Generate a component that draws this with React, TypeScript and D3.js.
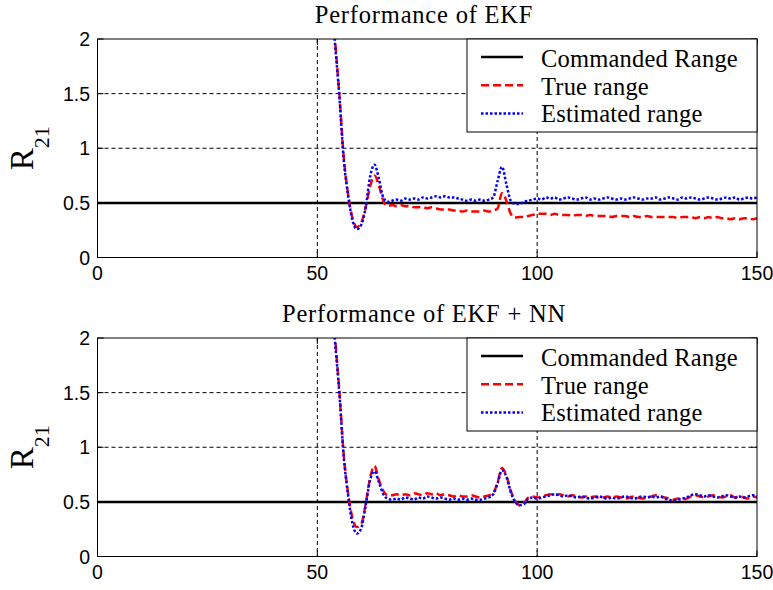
import React from 'react';
import * as d3 from 'd3';

// Sample instants (s) at which the ranges were logged
const time: number[] = d3.range(53, 151);

// EKF only: true and estimated relative range R21
const ekfTrue: number[] = [
  2.5, 2.0, 1.5, 0.92, 0.58, 0.36, 0.28, 0.32, 0.46, 0.65, 0.75, 0.66, 0.52, 0.47, 0.48, 0.47,
  0.48, 0.47, 0.47, 0.46, 0.46, 0.46, 0.45, 0.46, 0.45, 0.44, 0.44, 0.44, 0.43, 0.43, 0.42, 0.43,
  0.42, 0.42, 0.42, 0.43, 0.42, 0.43, 0.45, 0.59, 0.52, 0.4, 0.365, 0.37, 0.37, 0.38, 0.39, 0.4,
  0.4, 0.4, 0.39, 0.4, 0.39, 0.39, 0.39, 0.38, 0.39, 0.39, 0.38, 0.39, 0.38, 0.38, 0.38, 0.38,
  0.37, 0.38, 0.38, 0.38, 0.37, 0.38, 0.37, 0.37, 0.38, 0.37, 0.37, 0.37, 0.37, 0.37, 0.37, 0.36,
  0.37, 0.37, 0.37, 0.36, 0.37, 0.36, 0.37, 0.36, 0.37, 0.36, 0.36, 0.35, 0.36, 0.35, 0.36, 0.36,
  0.35, 0.36,
];
const ekfEst: number[] = [
  2.5, 1.97, 1.48, 0.9, 0.57, 0.34, 0.26, 0.3, 0.46, 0.74, 0.85, 0.72, 0.55, 0.51, 0.52, 0.53,
  0.52, 0.54, 0.53, 0.54, 0.53, 0.55, 0.54, 0.55, 0.56, 0.55, 0.56, 0.55, 0.55, 0.54, 0.53, 0.52,
  0.53, 0.52, 0.53, 0.52, 0.53, 0.55, 0.7, 0.83, 0.67, 0.52, 0.49, 0.49, 0.51, 0.52, 0.53, 0.54,
  0.53, 0.55, 0.54, 0.55, 0.53, 0.54, 0.55, 0.54, 0.53, 0.54, 0.55, 0.53, 0.54, 0.53, 0.54, 0.55,
  0.54, 0.53, 0.54, 0.53, 0.54, 0.55, 0.54, 0.53, 0.54, 0.54, 0.55, 0.53, 0.54, 0.55, 0.54, 0.53,
  0.55, 0.54, 0.55, 0.54, 0.53, 0.54, 0.55, 0.54, 0.53, 0.54, 0.55, 0.54, 0.55, 0.53, 0.54, 0.55,
  0.54, 0.55,
];

// EKF + NN: true and estimated relative range R21
const nnTrue: number[] = [
  2.5, 2.02, 1.52, 0.93, 0.58, 0.35, 0.27, 0.3, 0.48, 0.72, 0.83, 0.7, 0.6, 0.56, 0.56, 0.57,
  0.56, 0.57, 0.56, 0.58, 0.57, 0.56, 0.58, 0.57, 0.58, 0.56, 0.57, 0.56, 0.55, 0.56, 0.55, 0.55,
  0.56, 0.55, 0.54, 0.55, 0.56, 0.58, 0.68, 0.81, 0.74, 0.6, 0.51, 0.47, 0.49, 0.54, 0.55, 0.54,
  0.55, 0.56, 0.57, 0.56, 0.57, 0.56, 0.55, 0.56, 0.55, 0.54, 0.55, 0.54, 0.55, 0.54, 0.54, 0.55,
  0.54, 0.55, 0.54, 0.53, 0.54, 0.55, 0.54, 0.53, 0.54, 0.55, 0.56, 0.55, 0.54, 0.53, 0.52, 0.53,
  0.52, 0.53, 0.55, 0.56, 0.55, 0.54, 0.55, 0.56, 0.55, 0.54, 0.55, 0.56, 0.54, 0.55, 0.54, 0.53,
  0.55, 0.54,
];
const nnEst: number[] = [
  2.5, 1.98, 1.5, 0.92, 0.56, 0.3, 0.21, 0.26, 0.47, 0.7, 0.78, 0.68, 0.57, 0.53, 0.52, 0.53,
  0.52, 0.54, 0.53, 0.52, 0.54, 0.53, 0.55, 0.54, 0.53, 0.54, 0.53, 0.52, 0.53, 0.52, 0.53, 0.52,
  0.53, 0.52, 0.52, 0.53, 0.54, 0.57, 0.67, 0.79, 0.73, 0.59, 0.5, 0.47, 0.48, 0.53, 0.54, 0.53,
  0.54, 0.55, 0.56, 0.57, 0.56, 0.55, 0.56, 0.55, 0.54, 0.55, 0.54, 0.53, 0.54, 0.55, 0.54, 0.53,
  0.54, 0.53, 0.54, 0.55, 0.54, 0.53, 0.54, 0.55, 0.54, 0.55, 0.54, 0.55, 0.53, 0.52, 0.51, 0.52,
  0.53, 0.54, 0.56, 0.57, 0.56, 0.55, 0.56, 0.55, 0.54, 0.55, 0.56, 0.55, 0.54, 0.55, 0.54, 0.55,
  0.56, 0.55,
];

const commandedRange = 0.5;
const titles = ['Performance of EKF', 'Performance of EKF + NN'];
const legendLabels = ['Commanded Range', 'True range', 'Estimated range'];
const xTicks = [0, 50, 100, 150];
const yTicks = [0, 0.5, 1, 1.5, 2];
const xGrid = [50, 100];
const yGrid = [0.5, 1, 1.5];

const SERIF = '"Liberation Serif", "Times New Roman", serif';
const SANS = '"Liberation Sans", Arial, sans-serif';

const LEFT = 97.5;
const RIGHT = 757;
const PLOT_H = 218.5;
const TICK = 6;

type PanelProps = { id: string; top: number; title: string; trueVals: number[]; estVals: number[] };

function Panel({ id, top, title, trueVals, estVals }: PanelProps) {
  const x = d3.scaleLinear().domain([0, 150]).range([LEFT, RIGHT]);
  const y = d3.scaleLinear().domain([0, 2]).range([top + PLOT_H, top]);
  const line = d3
    .line<number>()
    .x((_, i) => x(time[i]))
    .y((d) => y(d))
    .curve(d3.curveMonotoneX);

  const bottom = top + PLOT_H;
  const legX = 467;
  const legW = RIGHT - legX;
  const legH = 93;
  const legendStyles = [
    { stroke: '#000', dash: 'none', w: 2.5 },
    { stroke: '#ff0000', dash: '8,4', w: 2.5 },
    { stroke: '#0000ff', dash: '2.5,2', w: 2.5 },
  ];

  return (
    <g>
      <defs>
        <clipPath id={`clip-${id}`}>
          <rect x={LEFT} y={top} width={RIGHT - LEFT} height={PLOT_H} />
        </clipPath>
      </defs>
      <rect x={LEFT} y={top} width={RIGHT - LEFT} height={PLOT_H} fill="#fff" />

      {/* grid */}
      {xGrid.map((v) => (
        <line key={`gx${v}`} x1={x(v)} x2={x(v)} y1={top} y2={bottom} stroke="#000" strokeWidth={1} strokeDasharray="4,3" />
      ))}
      {yGrid.map((v) => (
        <line key={`gy${v}`} x1={LEFT} x2={RIGHT} y1={y(v)} y2={y(v)} stroke="#000" strokeWidth={1} strokeDasharray="4,3" />
      ))}

      {/* data */}
      <g clipPath={`url(#clip-${id})`}>
        <line x1={x(0)} x2={x(150)} y1={y(commandedRange)} y2={y(commandedRange)} stroke="#000" strokeWidth={2.5} />
        <path d={line(trueVals) || ''} fill="none" stroke="#ff0000" strokeWidth={2.5} strokeDasharray="8,4" />
        <path d={line(estVals) || ''} fill="none" stroke="#0000ff" strokeWidth={2.5} strokeDasharray="2.5,2" />
      </g>

      {/* axes box and ticks */}
      <rect x={LEFT} y={top} width={RIGHT - LEFT} height={PLOT_H} fill="none" stroke="#000" strokeWidth={1} />
      {xTicks.map((v) => (
        <g key={`xt${v}`}>
          <line x1={x(v)} x2={x(v)} y1={bottom} y2={bottom - TICK} stroke="#000" />
          <line x1={x(v)} x2={x(v)} y1={top} y2={top + TICK} stroke="#000" />
          <text x={x(v)} y={bottom + 22} textAnchor="middle" fontFamily={SANS} fontSize={19.5} fill="#000">
            {v}
          </text>
        </g>
      ))}
      {yTicks.map((v) => (
        <g key={`yt${v}`}>
          <line x1={LEFT} x2={LEFT + TICK} y1={y(v)} y2={y(v)} stroke="#000" />
          <line x1={RIGHT} x2={RIGHT - TICK} y1={y(v)} y2={y(v)} stroke="#000" />
          <text x={90} y={y(v)} dy="0.36em" textAnchor="end" fontFamily={SANS} fontSize={19.5} fill="#000">
            {v}
          </text>
        </g>
      ))}

      {/* title */}
      <text
        x={424}
        y={top - 16}
        textAnchor="middle"
        fontFamily={SERIF}
        fontSize={24.5}
        letterSpacing={0.8}
        fill="#000"
      >
        {title}
      </text>

      {/* y label */}
      <text
        transform={`translate(33, ${top + PLOT_H / 2}) rotate(-90)`}
        textAnchor="middle"
        fontFamily={SERIF}
        fill="#000"
      >
        <tspan fontSize={33}>R</tspan>
        <tspan fontSize={22} dy={16}>21</tspan>
      </text>

      {/* legend */}
      <rect x={legX} y={top} width={legW} height={legH} fill="#fff" stroke="#000" strokeWidth={1} />
      {legendLabels.map((lab, i) => (
        <g key={lab}>
          <line
            x1={legX + 14}
            x2={legX + 56}
            y1={top + 18 + i * 28.2}
            y2={top + 18 + i * 28.2}
            stroke={legendStyles[i].stroke}
            strokeWidth={legendStyles[i].w}
            strokeDasharray={legendStyles[i].dash}
          />
          <text
            x={legX + 74}
            y={top + 28 + i * 27.5}
            fontFamily={SERIF}
            fontSize={24.5}
            letterSpacing={0.2}
            fill="#000"
          >
            {lab}
          </text>
        </g>
      ))}
    </g>
  );
}

export default function App() {
  return (
    <svg width={773} height={590} style={{ position: 'absolute', left: 0, top: 0, background: '#fff' }}>
      <rect width={773} height={590} fill="#fff" />
      <Panel id="ekf" top={39} title={titles[0]} trueVals={ekfTrue} estVals={ekfEst} />
      <Panel id="nn" top={338} title={titles[1]} trueVals={nnTrue} estVals={nnEst} />
    </svg>
  );
}
